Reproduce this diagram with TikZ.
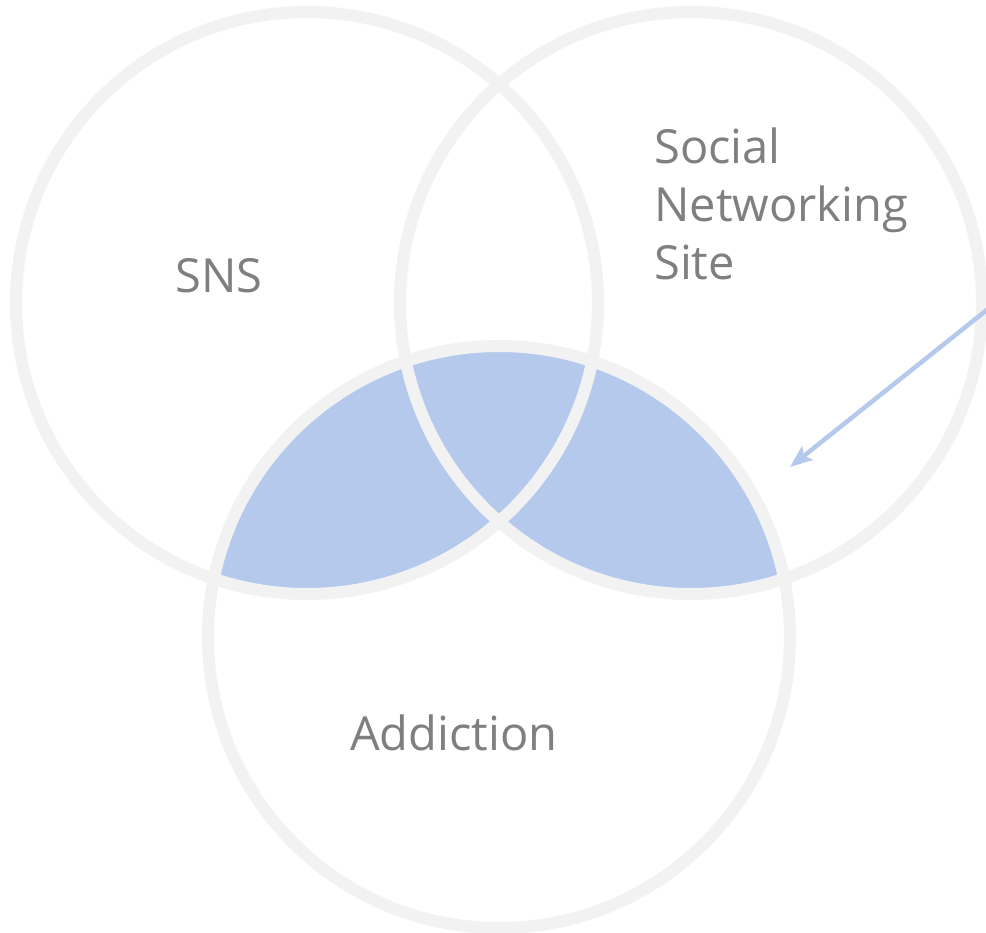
\documentclass[tikz,border=0pt]{standalone}
\usepackage{fontspec}
\setmainfont{Open Sans}
\usetikzlibrary{arrows.meta}
\definecolor{ringgray}{HTML}{F2F2F2}
\definecolor{vennblue}{HTML}{B4C9EC}
\definecolor{labelgray}{HTML}{7F7F7F}
\begin{document}
\begin{tikzpicture}[x=1pt,y=-1pt,
  ring/.style={circle,draw=ringgray,line width=12pt,minimum size=582pt,inner sep=0pt},
  blob/.style={circle,fill=vennblue,minimum size=582pt,inner sep=0pt},
  lbl/.style={text=labelgray,font=\fontsize{47}{58}\selectfont,inner sep=0pt,anchor=base west},
  pointer/.style={draw=vennblue,line width=4.5pt,-{Stealth[length=22pt,width=17pt,inset=4pt]}}]
\useasboundingbox[fill=white] (0,0) rectangle (986,933);
% shaded: bottom circle intersected with left and right circles
\begin{scope}
  \clip (499,637) circle[radius=291pt];
  \node[blob] at (307,303) {};
  \node[blob] at (691,303) {};
\end{scope}
\node[ring] (left) at (307,303) {};
\node[ring] (right) at (691,303) {};
\node[ring] (bottom) at (499,637) {};
\node[lbl] (sns) at (175,293) {SNS};
\node[lbl,align=left] (sites) at (654,280) {Social\\Networking\\Site};
\node[lbl] (addiction) at (350,750) {Addiction};
\coordinate (pstart) at (988,309);
\coordinate (pend) at (790,467);
\draw[pointer] (pstart) -- (pend);
\end{tikzpicture}
\end{document}
